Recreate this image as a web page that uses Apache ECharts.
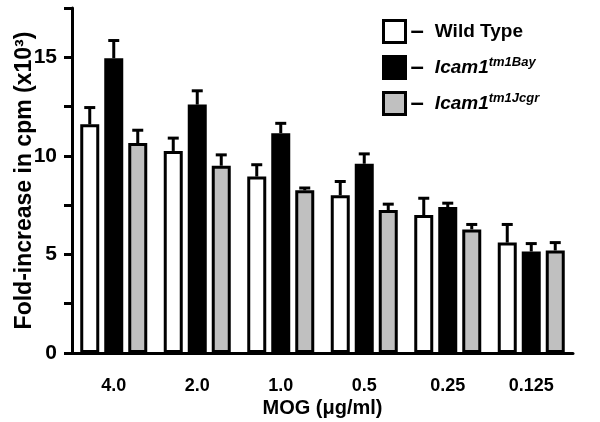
<!DOCTYPE html>
<html><head><meta charset="utf-8">
<script src="https://cdn.jsdelivr.net/npm/echarts@6/dist/echarts.min.js"></script>
<style>html,body{margin:0;padding:0;background:#fff}#c{width:600px;height:422px}</style>
</head><body><div id="c"></div>
<script>
var categories = ['4.0', '2.0', '1.0', '0.5', '0.25', '0.125'];
var wildType = [11.6, 10.25, 8.95, 8.0, 7.0, 5.6];
var wildTypeErr = [0.85, 0.65, 0.6, 0.7, 0.85, 0.92];
var bay = [14.95, 12.6, 11.15, 9.6, 7.4, 5.15];
var bayErr = [0.9, 0.7, 0.5, 0.5, 0.2, 0.4];
var jcgr = [10.65, 9.5, 8.25, 7.25, 6.27, 5.2];
var jcgrErr = [0.65, 0.55, 0.12, 0.3, 0.25, 0.4];
var yTicks = ['0', '5', '10', '15'];

var FONT = 'Liberation Sans';
var names = ['Wild Type', 'Icam1tm1Bay', 'Icam1tm1Jcgr'];
var fills = ['#ffffff', '#000000', '#c0c0c0'];
var vals = [wildType, bay, jcgr];
var errs = [wildTypeErr, bayErr, jcgrErr];
var BW = 19, GAP = 5;
var offsets = [-(BW + GAP), 0, BW + GAP];

var chart = echarts.init(document.getElementById('c'));
var series = [];
for (var k = 0; k < 3; k++) {
  series.push({
    name: names[k], type: 'bar', data: vals[k], barWidth: BW, barGap: (GAP / BW * 100) + '%',
    itemStyle: { color: fills[k], borderColor: '#000', borderWidth: 3 }, z: 3
  });
}
for (var k2 = 0; k2 < 3; k2++) {
  (function (k) {
    var data = vals[k].map(function (v, i) { return [i, v, v + errs[k][i]]; });
    series.push({
      type: 'custom', data: data, z: 2, silent: true,
      renderItem: function (params, api) {
        var p0 = api.coord([api.value(0), api.value(1)]);
        var p1 = api.coord([api.value(0), api.value(2)]);
        var x = p0[0] + offsets[k];
        var st = { stroke: '#000', lineWidth: 3 };
        return { type: 'group', children: [
          { type: 'line', shape: { x1: x, y1: p0[1], x2: x, y2: p1[1] }, style: st },
          { type: 'line', shape: { x1: x - 5.5, y1: p1[1], x2: x + 5.5, y2: p1[1] }, style: st }
        ]};
      }
    });
  })(k2);
}

chart.setOption({
  animation: false,
  grid: { left: 72, right: 27, top: 8, bottom: 69, containLabel: false, outerBoundsMode: 'none' },
  legend: {
    orient: 'vertical', left: 382, top: 19, padding: 0, itemWidth: 22, itemHeight: 22, itemGap: 11,
    icon: 'rect',
    data: names.map(function (n, i) { return { name: n, itemStyle: { color: fills[i], borderColor: '#000', borderWidth: 3 } }; }),
    formatter: function (n) {
      if (n === 'Wild Type') return '{d|–}{n|Wild Type}';
      if (n === 'Icam1tm1Bay') return '{d|–}{i|Icam1}{s|tm1Bay}';
      return '{d|–}{i|Icam1}{s|tm1Jcgr}';
    },
    textStyle: {
      fontFamily: FONT,
      rich: {
        d: { fontSize: 24, fontWeight: 'bold', color: '#000', fontFamily: FONT, padding: [0, 11, 0, 0] },
        n: { fontSize: 19, fontWeight: 'bold', color: '#000', fontFamily: FONT },
        i: { fontSize: 19, fontWeight: 'bold', fontStyle: 'italic', color: '#000', fontFamily: FONT },
        s: { fontSize: 13, fontWeight: 'bold', fontStyle: 'italic', color: '#000', fontFamily: FONT, verticalAlign: 'top', padding: [0, 0, 8, 0] }
      }
    }
  },
  xAxis: {
    type: 'category', data: categories,
    name: 'MOG (μg/ml)', nameLocation: 'middle', nameGap: 45, nameMoveOverlap: false,
    nameTextStyle: { fontFamily: FONT, fontSize: 20, fontWeight: 'bold', color: '#000' },
    axisLine: { lineStyle: { color: '#000', width: 3 } },
    axisTick: { alignWithLabel: true, length: 8, lineStyle: { color: '#000', width: 3 } },
    axisLabel: { fontFamily: FONT, fontSize: 18, fontWeight: 'bold', color: '#000', margin: 24 }
  },
  yAxis: {
    type: 'value', min: 0, max: 17.5, interval: 2.5,
    name: 'Fold-increase in cpm (x10³)', nameLocation: 'middle', nameGap: 36, nameRotate: 90, nameMoveOverlap: false,
    nameTextStyle: { fontFamily: FONT, fontSize: 23, fontWeight: 'bold', color: '#000' },
    axisLine: { show: true, lineStyle: { color: '#000', width: 3 } },
    axisTick: { show: true, length: 8, lineStyle: { color: '#000', width: 3 } },
    splitLine: { show: false },
    axisLabel: {
      fontFamily: FONT, fontSize: 21, fontWeight: 'bold', color: '#000', margin: 15,
      formatter: function (v) { var idx = v / 5; return (Math.abs(idx - Math.round(idx)) < 1e-9 && yTicks[Math.round(idx)] !== undefined) ? yTicks[Math.round(idx)] : ''; }
    }
  },
  series: series
});
</script></body></html>
